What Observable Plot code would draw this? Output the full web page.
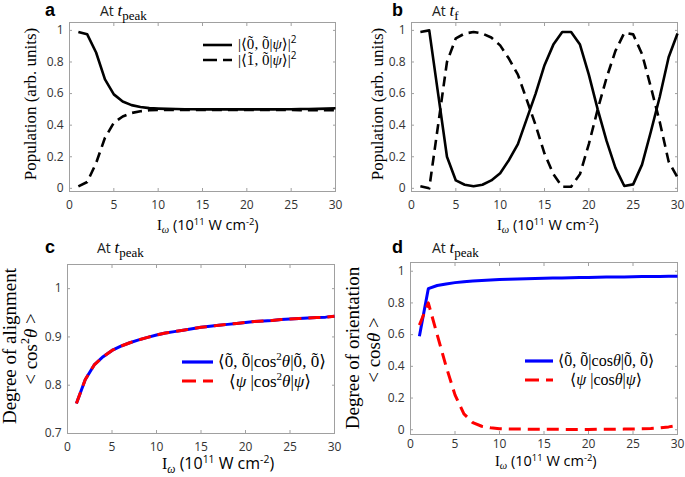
<!DOCTYPE html>
<html><head><meta charset="utf-8">
<script src="https://cdn.jsdelivr.net/npm/d3@7"></script>
<script src="https://cdn.jsdelivr.net/npm/@observablehq/plot@0.6"></script>
<style>
body{margin:0;background:#fff;}
#fig{position:relative;width:685px;height:477px;overflow:hidden;background:#fff;}
#fig svg.panel{position:absolute;}
#overlay{position:absolute;left:0;top:0;}
</style></head><body><div id="fig"></div>
<script>
// ---------- data ----------
const intensity = [1,2,3,4,5,6,7,8,9,10,11,12,13,14,15,16,17,18,19,20,21,22,23,24,25,26,27,28,29,30];

// (a) populations at t_peak
const popGroundPeak = [0.99,0.975,0.86,0.69,0.595,0.55,0.527,0.515,0.508,0.505,0.503,0.502,0.501,0.501,0.5,0.5,0.5,0.5,0.5,0.5,0.5,0.5,0.5,0.501,0.501,0.502,0.502,0.503,0.505,0.507];
const popExcitedPeak = [0.012,0.04,0.16,0.32,0.415,0.455,0.477,0.488,0.494,0.496,0.497,0.497,0.497,0.497,0.497,0.497,0.497,0.497,0.497,0.497,0.497,0.497,0.496,0.496,0.496,0.495,0.495,0.494,0.494,0.494];

// (b) populations at t_f
const popGroundFinal = [0.99,1.0,0.6,0.2,0.05,0.023,0.013,0.023,0.05,0.096,0.18,0.28,0.44,0.6,0.78,0.91,0.99,0.99,0.91,0.72,0.5,0.3,0.13,0.015,0.025,0.15,0.36,0.58,0.83,0.98];
const popExcitedFinal = [0.013,0.0,0.4,0.8,0.95,0.98,0.99,0.98,0.955,0.905,0.82,0.72,0.56,0.4,0.22,0.09,0.01,0.01,0.09,0.28,0.5,0.7,0.87,0.985,0.975,0.85,0.64,0.42,0.17,0.07];

// (c) degree of alignment
const alignPendular = [0.762,0.812,0.842,0.859,0.872,0.881,0.888,0.894,0.899,0.904,0.908,0.911,0.914,0.917,0.92,0.922,0.924,0.926,0.928,0.93,0.932,0.933,0.934,0.936,0.937,0.938,0.939,0.94,0.941,0.943];
const alignPsi = [0.762,0.812,0.842,0.859,0.872,0.881,0.888,0.894,0.899,0.904,0.908,0.911,0.914,0.917,0.92,0.922,0.924,0.926,0.928,0.93,0.932,0.933,0.934,0.936,0.937,0.938,0.939,0.94,0.941,0.943];

// (d) degree of orientation
const orientPendular = [0.59,0.89,0.91,0.92,0.928,0.934,0.938,0.942,0.945,0.947,0.949,0.951,0.953,0.954,0.956,0.957,0.958,0.959,0.96,0.961,0.962,0.963,0.963,0.964,0.965,0.966,0.966,0.967,0.968,0.968];
const orientPsi = [0.66,0.8,0.6,0.4,0.22,0.1,0.045,0.022,0.012,0.007,0.005,0.004,0.004,0.003,0.003,0.003,0.002,0.002,0.002,0.002,0.003,0.003,0.003,0.004,0.005,0.006,0.008,0.012,0.018,0.027];

const xTicks = [0,5,10,15,20,25,30];
const popTicks = [0,0.2,0.4,0.6,0.8,1];
const alignTicks = [0.7,0.8,0.9,1];

// ---------- helpers ----------
const SANS = "'Open Sans','Noto Sans',sans-serif";
const SERIF = "'Liberation Serif','DejaVu Serif',serif";
const fig = document.getElementById("fig");

function rows(ys){ return intensity.map((x,i)=>({x, y: ys[i]})); }

function panel(cfg){
  const marks = [Plot.frame({stroke:"#a0a0a0"})];
  const tk = {stroke:"#a0a0a0", tickFormat: () => "", label:null};
  marks.push(Plot.axisX(xTicks, {...tk, anchor:"bottom", tickSize:3, dy:-3}));
  marks.push(Plot.axisX(xTicks, {...tk, anchor:"top", tickSize:3, dy:3}));
  marks.push(Plot.axisY(cfg.yTicks, {...tk, anchor:"left", tickSize:3, dx:3}));
  marks.push(Plot.axisY(cfg.yTicks, {...tk, anchor:"right", tickSize:3, dx:-3}));
  marks.push(Plot.axisX(xTicks, {anchor:"bottom", tickSize:0, tickPadding:cfg.xPad, fill:"#333", label:null, tickFormat: d => String(d)}));
  marks.push(Plot.axisY(cfg.yTicks, {anchor:"left", tickSize:0, tickPadding:6, fill:"#333", label:null, tickFormat: d => String(d)}));
  for (const s of cfg.series){
    marks.push(Plot.line(rows(s.values), {x:"x", y:"y", stroke:s.color, strokeWidth:s.width, strokeDasharray:s.dash, strokeLinejoin:"round", strokeLinecap:"butt"}));
  }
  const svg = Plot.plot({
    width: cfg.w, height: cfg.h,
    marginLeft: cfg.m[0], marginRight: cfg.m[1], marginTop: cfg.m[2], marginBottom: cfg.m[3],
    x: {domain:[0,30]},
    y: {domain: cfg.yDomain},
    style: {fontFamily: SANS, fontSize: "12px", color:"#333", background:"transparent", overflow:"visible"},
    marks
  });
  svg.classList.add("panel");
  svg.style.left = cfg.left + "px";
  svg.style.top = cfg.top + "px";
  svg.querySelectorAll("text").forEach(t => { if (t.textContent === "") t.remove(); });
  fig.appendChild(svg);
}

panel({left:0, top:0, w:342, h:238, m:[69,7,22,47], xPad:9, yDomain:[-0.02,1.05], yTicks:popTicks,
  series:[{values:popGroundPeak, color:"#000", width:2.6, dash:null},
          {values:popExcitedPeak, color:"#000", width:2.6, dash:"10,6"}]});
panel({left:342, top:0, w:343, h:238, m:[69,8,22,47], xPad:9, yDomain:[-0.02,1.05], yTicks:popTicks,
  series:[{values:popGroundFinal, color:"#000", width:2.6, dash:null},
          {values:popExcitedFinal, color:"#000", width:2.6, dash:"10,6"}]});
panel({left:0, top:238, w:342, h:239, m:[67,8,26,44], xPad:9, yDomain:[0.7,1.05], yTicks:alignTicks,
  series:[{values:alignPendular, color:"#0000ff", width:3, dash:null},
          {values:alignPsi, color:"#ff0000", width:3, dash:"12,7"}]});
panel({left:342, top:238, w:343, h:239, m:[68,8,24,43], xPad:5, yDomain:[-0.03,1.055], yTicks:popTicks,
  series:[{values:orientPendular, color:"#0000ff", width:3, dash:null},
          {values:orientPsi, color:"#ff0000", width:3, dash:"12,7"}]});

// ---------- annotations ----------
const ov = d3.select(fig).append("svg").attr("id","overlay").attr("width",685).attr("height",477);

// segments: {t, ff, fs, fi, fw, dx, dy, fill, after:{dx,dy}} ; "after" shifts are added to the next segment
function rich(x, y, segs, {anchor="start", transform=null, fill="#000"} = {}){
  const t = ov.append("text").attr("x", transform ? 0 : x).attr("y", transform ? 0 : y)
    .attr("text-anchor", anchor).attr("fill", fill);
  if (transform) t.attr("transform", transform);
  let pdx = 0, pdy = 0;
  for (const s of segs){
    const ts = t.append("tspan").text(s.t)
      .attr("font-family", s.ff || SERIF).attr("font-size", s.fs || 15);
    if (s.fi) ts.attr("font-style","italic");
    if (s.fw) ts.attr("font-weight", s.fw);
    const dx = (s.dx || 0) + pdx, dy = (s.dy || 0) + pdy;
    if (dy) ts.attr("dy", dy.toFixed(2));
    if (dx) ts.attr("dx", dx.toFixed(2));
    if (s.fill) ts.attr("fill", s.fill);
    pdx = s.after ? s.after.dx : 0;
    pdy = s.after ? s.after.dy : 0;
  }
  return t;
}

function panelTitle(lx, ly, letter, ax, sub){
  rich(lx, ly, [{t:letter, ff:"'Liberation Sans',Arial,sans-serif", fs:18, fw:"bold"}]);
  rich(ax, ly, [{t:"At ", ff:SANS, fs:14, fill:"#222"}, {t:"t", fs:17, fi:true}, {t:sub, fs:13, dy:4}]);
}
panelTitle(45, 16, "a", 100, "peak");
panelTitle(392, 16, "b", 432, "f");
panelTitle(45, 253, "c", 97, "peak");
panelTitle(392, 253, "d", 432, "peak");

function xLabel(x, y, s){
  rich(x, y, [
    {t:"I", fs:s},
    {t:"ω", fs:s*0.72, fi:true, dy:s*0.22},
    {t:" (10", ff:SANS, fs:s, dy:-s*0.22},
    {t:"11", ff:SANS, fs:s*0.65, dy:-s*0.36},
    {t:" W cm", ff:SANS, fs:s, dy:s*0.36},
    {t:"-2", ff:SANS, fs:s*0.65, dy:-s*0.36},
    {t:")", ff:SANS, fs:s, dy:s*0.36}
  ]);
}
xLabel(157, 230, 14.5);
xLabel(497, 230, 14.5);
xLabel(162, 469, 16);
xLabel(495, 466, 14.5);

rich(0,0,[{t:"Population (arb. units)", fs:17}], {anchor:"middle", transform:"translate(36,104) rotate(-90)"});
rich(0,0,[{t:"Population (arb. units)", fs:17}], {anchor:"middle", transform:"translate(383,104) rotate(-90)"});
rich(0,0,[{t:"Degree of alignment", fs:19}], {anchor:"middle", transform:"translate(16,346) rotate(-90)"});
rich(0,0,[{t:"< cos", fs:19}, {t:"2", fs:12, dy:-8}, {t:"θ", fs:19, fi:true, dy:8}, {t:" >", fs:19}], {anchor:"middle", transform:"translate(37,349) rotate(-90)"});
rich(0,0,[{t:"Degree of orientation", fs:19}], {anchor:"middle", transform:"translate(359,348) rotate(-90)"});
rich(0,0,[{t:"< cos", fs:19}, {t:"θ", fs:19, fi:true}, {t:" >", fs:19}], {anchor:"middle", transform:"translate(380,350) rotate(-90)"});

// legends
function sample(x1, x2, y, color, width, dash){
  const l = ov.append("line").attr("x1",x1).attr("x2",x2).attr("y1",y).attr("y2",y)
    .attr("stroke",color).attr("stroke-width",width);
  if (dash) l.attr("stroke-dasharray", dash);
}
// a digit with a tilde set above it; the baseline/pen shift is undone on the next segment
function tld(ch, fs){
  return [
    {t:ch, fs},
    {t:"\u02DC", fs, dx:-0.42*fs, dy:-0.2*fs, after:{dx:0.09*fs, dy:0.2*fs}}
  ];
}

sample(203, 232, 45, "#000", 2.6, null);
sample(203, 232, 60, "#000", 2.6, "14,6");
rich(238, 49, [{t:"|⟨", fs:15}, ...tld("0",15), {t:", ", fs:15}, ...tld("0",15), {t:"|", fs:15}, {t:"ψ", fs:15, fi:true}, {t:"⟩|", fs:15}, {t:"2", ff:SANS, fs:10, dy:-6}]);
rich(238, 65, [{t:"|⟨", fs:15}, ...tld("1",15), {t:", ", fs:15}, ...tld("0",15), {t:"|", fs:15}, {t:"ψ", fs:15, fi:true}, {t:"⟩|", fs:15}, {t:"2", ff:SANS, fs:10, dy:-6}]);

sample(182, 213, 362, "#0000ff", 3.2, null);
sample(182, 213, 381, "#ff0000", 3.2, "14,7");
rich(218, 367, [{t:"⟨", fs:17}, ...tld("0",17), {t:", ", fs:17}, ...tld("0",17), {t:"|cos", fs:17}, {t:"2", fs:11, dy:-7}, {t:"θ", fs:17, fi:true, dy:7}, {t:"|", fs:17}, ...tld("0",17), {t:", ", fs:17}, ...tld("0",17), {t:"⟩", fs:17}]);
rich(229, 387, [{t:"⟨", fs:17}, {t:"ψ", fs:17, fi:true}, {t:" |cos", fs:17}, {t:"2", fs:11, dy:-7}, {t:"θ", fs:17, fi:true, dy:7}, {t:"|", fs:17}, {t:"ψ", fs:17, fi:true}, {t:"⟩", fs:17}]);

sample(525, 553, 361, "#0000ff", 3.2, null);
sample(525, 553, 380, "#ff0000", 3.2, "14,7");
rich(558, 366, [{t:"⟨", fs:16}, ...tld("0",16), {t:", ", fs:16}, ...tld("0",16), {t:"|cos", fs:16}, {t:"θ", fs:16, fi:true}, {t:"|", fs:16}, ...tld("0",16), {t:", ", fs:16}, ...tld("0",16), {t:"⟩", fs:16}]);
rich(570, 385, [{t:"⟨", fs:16}, {t:"ψ", fs:16, fi:true}, {t:" |cos", fs:16}, {t:"θ", fs:16, fi:true}, {t:"|", fs:16}, {t:"ψ", fs:16, fi:true}, {t:"⟩", fs:16}]);
</script></body></html>
